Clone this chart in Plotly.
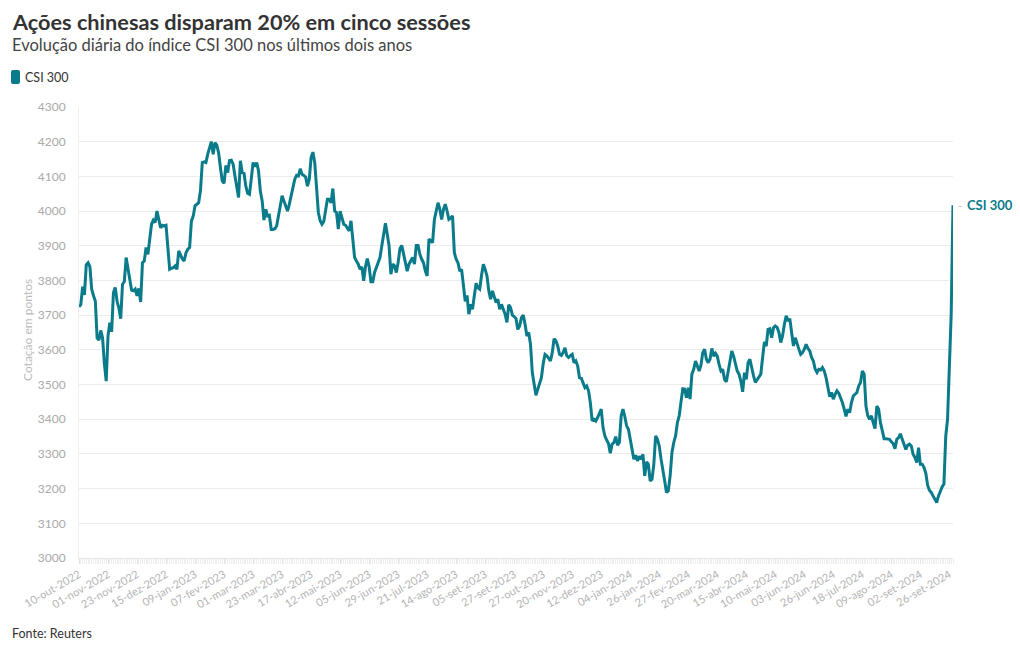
import plotly.graph_objects as go
import pandas as pd

# ---- data -------------------------------------------------------------
HOLIDAYS = [
    "2023-01-02", "2023-01-23", "2023-01-24", "2023-01-25", "2023-01-26", "2023-01-27",
    "2023-04-05", "2023-05-01", "2023-05-02", "2023-05-03", "2023-06-22", "2023-06-23",
    "2023-09-29", "2023-10-02", "2023-10-03", "2023-10-04", "2023-10-05", "2023-10-06",
    "2024-01-01", "2024-02-09", "2024-02-12", "2024-02-13", "2024-02-14", "2024-02-15",
    "2024-02-16", "2024-04-04", "2024-04-05", "2024-05-01", "2024-05-02", "2024-05-03",
    "2024-06-10", "2024-09-16", "2024-09-17",
]
MESES = ["jan", "fev", "mar", "abr", "mai", "jun", "jul", "ago", "set", "out", "nov", "dez"]

trading_days = [d for d in pd.bdate_range("2022-10-10", "2024-09-30")
                if d.strftime("%Y-%m-%d") not in HOLIDAYS]
dates = [f"{d.day:02d}-{MESES[d.month - 1]}-{d.year}" for d in trading_days]

csi300 = [
    3724, 3730, 3782, 3758, 3845, 3851, 3840, 3775, 3756, 3741,
    3634, 3628, 3656, 3634, 3560, 3510, 3640, 3678, 3652, 3765,
    3780, 3740, 3720, 3690, 3789, 3797, 3866, 3837, 3813, 3772,
    3770, 3775, 3756, 3777, 3738, 3851, 3856, 3895, 3875, 3928,
    3962, 3974, 3967, 4000, 3971, 3952, 3959, 3957, 3959, 3900,
    3832, 3835, 3837, 3842, 3832, 3885, 3871, 3862, 3856, 3880,
    3890, 3895, 3971, 3986, 4015, 4020, 4024, 4060, 4140, 4142,
    4140, 4164, 4183, 4200, 4164, 4197, 4190, 4168, 4125, 4087,
    4080, 4132, 4111, 4146, 4147, 4135, 4101, 4068, 4039, 4145,
    4111, 4109, 4072, 4051, 4048, 4092, 4140, 4128, 4140, 4116,
    4058, 4030, 3974, 4005, 3986, 3988, 3947, 3947, 3949, 3957,
    3986, 4005, 4044, 4029, 4015, 4000, 4020, 4044, 4058, 4092,
    4103, 4101, 4122, 4106, 4103, 4098, 4072, 4092, 4154, 4170,
    4140, 4080, 3996, 3972, 3962, 3970, 4000, 4034, 4034, 4024,
    4065, 4000, 3996, 3948, 4000, 3981, 3962, 3959, 3952, 3943,
    3972, 3928, 3866, 3856, 3847, 3832, 3839, 3799, 3840, 3863,
    3840, 3796, 3796, 3823, 3837, 3847, 3866, 3900, 3938, 3965,
    3933, 3900, 3818, 3847, 3842, 3823, 3852, 3892, 3901, 3875,
    3847, 3827, 3847, 3856, 3866, 3847, 3901, 3901, 3875, 3861,
    3851, 3827, 3813, 3919, 3914, 3909, 3976, 4000, 4024, 4005,
    3976, 4005, 4020, 4000, 3976, 3980, 3986, 3880, 3861, 3851,
    3827, 3832, 3789, 3740, 3757, 3703, 3731, 3717, 3755, 3792,
    3779, 3775, 3815, 3847, 3832, 3813, 3770, 3746, 3770, 3751,
    3736, 3746, 3717, 3731, 3715, 3703, 3679, 3730, 3722, 3700,
    3696, 3690, 3659, 3669, 3693, 3700, 3674, 3640, 3650, 3616,
    3534, 3506, 3469, 3486, 3504, 3520, 3560, 3587, 3583, 3575,
    3568, 3592, 3632, 3626, 3611, 3587, 3584, 3592, 3606, 3583,
    3578, 3583, 3587, 3563, 3568, 3554, 3520, 3518, 3501, 3491,
    3496, 3482, 3448, 3395, 3400, 3395, 3405, 3419, 3429, 3376,
    3352, 3340, 3330, 3302, 3328, 3333, 3350, 3325, 3333, 3410,
    3429, 3408, 3381, 3371, 3342, 3318, 3285, 3296, 3280, 3293,
    3285, 3299, 3237, 3277, 3270, 3222, 3227, 3270, 3352, 3342,
    3323, 3285, 3246, 3222, 3189, 3194, 3237, 3304, 3333, 3352,
    3390, 3410, 3450, 3488, 3487, 3462, 3491, 3458, 3530, 3544,
    3568, 3554, 3539, 3556, 3592, 3602, 3573, 3563, 3573, 3604,
    3582, 3590, 3582, 3558, 3539, 3544, 3515, 3508, 3534, 3568,
    3597, 3582, 3563, 3539, 3530, 3510, 3479, 3534, 3515, 3563,
    3573, 3544, 3525, 3506, 3515, 3523, 3530, 3578, 3623, 3611,
    3659, 3661, 3635, 3664, 3669, 3665, 3650, 3621, 3640, 3674,
    3698, 3683, 3690, 3650, 3611, 3635, 3616, 3602, 3587, 3592,
    3602, 3616, 3604, 3597, 3578, 3568, 3544, 3535, 3544, 3542,
    3549, 3539, 3520, 3490, 3465, 3477, 3458, 3472, 3482, 3475,
    3462, 3448, 3429, 3408, 3429, 3419, 3448, 3467, 3472, 3477,
    3496, 3506, 3539, 3530, 3438, 3410, 3400, 3410, 3390, 3373,
    3438, 3429, 3390, 3366, 3344, 3344, 3344, 3342, 3335, 3330,
    3315, 3342, 3347, 3358, 3342, 3328, 3313, 3325, 3328, 3323,
    3299, 3290, 3275, 3318, 3270, 3270, 3261, 3245, 3210, 3195,
    3189, 3179, 3169, 3160, 3179, 3193, 3205, 3213, 3351, 3400,
    3553, 3703, 4017,
]

tick_labels = [
    "10-out-2022", "01-nov-2022", "23-nov-2022", "15-dez-2022", "09-jan-2023",
    "07-fev-2023", "01-mar-2023", "23-mar-2023", "17-abr-2023", "12-mai-2023",
    "05-jun-2023", "29-jun-2023", "21-jul-2023", "14-ago-2023", "05-set-2023",
    "27-set-2023", "27-out-2023", "20-nov-2023", "12-dez-2023", "04-jan-2024",
    "26-jan-2024", "27-fev-2024", "20-mar-2024", "15-abr-2024", "10-mai-2024",
    "03-jun-2024", "26-jun-2024", "18-jul-2024", "09-ago-2024", "02-set-2024",
    "26-set-2024",
]
y_ticks = list(range(3000, 4301, 100))

SERIES_NAME = "CSI 300"
TITLE = "Ações chinesas disparam 20% em cinco sessões"
SUBTITLE = "Evolução diária do índice CSI 300 nos últimos dois anos"
Y_TITLE = "Cotação em pontos"
SOURCE = "Fonte: Reuters"

n = min(len(dates), len(csi300))
dates = dates[:n]
csi300 = csi300[:n]
x_idx = list(range(n))
tick_vals = [dates.index(t) for t in tick_labels if t in dates]
tick_text = [t for t in tick_labels if t in dates]

# ---- style --------------------------------------------------------------
TEAL = "#0a7b8a"
FONT = "Lato"
W, H = 1020, 650
ML, MR, MT, MB = 79, 67, 107, 92
PW, PH = W - ML - MR, H - MT - MB


def px_x(px):
    return (px - ML) / PW


def px_y(py):
    return (H - MB - py) / PH


fig = go.Figure()
fig.add_trace(go.Scatter(
    x=x_idx, y=csi300, mode="lines", name=SERIES_NAME,
    line=dict(color=TEAL, width=3),
    text=dates, hovertemplate="%{text}<br>%{y:.0f}<extra></extra>",
    showlegend=False,
))

# legend swatch (rounded)
lx0, lx1, ly0, ly1 = px_x(11), px_x(20), px_y(84), px_y(70)
rx, ry = 2 / PW, 2 / PH
path = (f"M {lx0+rx},{ly0} L {lx1-rx},{ly0} Q {lx1},{ly0} {lx1},{ly0+ry} "
        f"L {lx1},{ly1-ry} Q {lx1},{ly1} {lx1-rx},{ly1} L {lx0+rx},{ly1} "
        f"Q {lx0},{ly1} {lx0},{ly1-ry} L {lx0},{ly0+ry} Q {lx0},{ly0} {lx0+rx},{ly0} Z")
fig.add_shape(type="path", path=path, xref="paper", yref="paper",
              fillcolor=TEAL, line=dict(width=0))

ann = [
    dict(text=f"<b>{TITLE}</b>", x=px_x(10), y=px_y(22), font=dict(size=21.7, color="#333333")),
    dict(text=SUBTITLE, x=px_x(10), y=px_y(45), font=dict(size=16.5, color="#444444")),
    dict(text=SERIES_NAME, x=px_x(23), y=px_y(77), font=dict(size=12.5, color="#333333")),
    dict(text=SOURCE, x=px_x(10), y=px_y(633), font=dict(size=12.5, color="#333333")),
]
for a in ann:
    fig.add_annotation(xref="paper", yref="paper", xanchor="left", yanchor="middle",
                       showarrow=False, **a)

fig.add_annotation(text=Y_TITLE, xref="paper", yref="paper", x=px_x(27), y=px_y(330),
                   textangle=-90, showarrow=False, xanchor="center", yanchor="middle",
                   font=dict(size=12, color="#bbbbbb"))

# end label
fig.add_annotation(x=x_idx[-1], y=csi300[-1], text=f"<b>{SERIES_NAME}</b>",
                   showarrow=False, xanchor="left", yanchor="middle", xshift=12,
                   font=dict(size=13, color=TEAL))
fig.add_annotation(x=x_idx[-1], y=csi300[-1], text="-", showarrow=False,
                   xanchor="left", yanchor="middle", xshift=3,
                   font=dict(size=11, color="#bbbbbb"))

fig.update_layout(
    width=W, height=H,
    margin=dict(l=ML, r=MR, t=MT, b=MB, pad=0),
    paper_bgcolor="white", plot_bgcolor="white",
    font=dict(family=FONT, color="#333333"),
    hovermode="closest",
    xaxis=dict(
        range=[0, n - 1], tickmode="array", tickvals=tick_vals, ticktext=tick_text,
        tickangle=-30, tickfont=dict(size=11, color="#b3b3b3"),
        showgrid=False, zeroline=False,
        showline=True, linecolor="#e6e6e6", linewidth=1,
        ticks="outside", ticklen=5, tickcolor="#e3e3e3",
        minor=dict(ticks="outside", tickmode="linear", tick0=0, dtick=1,
                   ticklen=5, tickcolor="#eeeeee", showgrid=False),
    ),
    yaxis=dict(
        range=[y_ticks[0], y_ticks[-1]], tickmode="array", tickvals=y_ticks,
        tickfont=dict(size=12, color="#aaaaaa"),
        showgrid=True, gridcolor="#ececec", gridwidth=1,
        zeroline=False, showline=True, linecolor="#eeeeee",
        ticks="", ticklabelstandoff=10,
    ),
)

fig.write_html("out.html", config={"displayModeBar": False},
               post_script="document.body.style.margin='0px';document.body.style.overflow='hidden';")
